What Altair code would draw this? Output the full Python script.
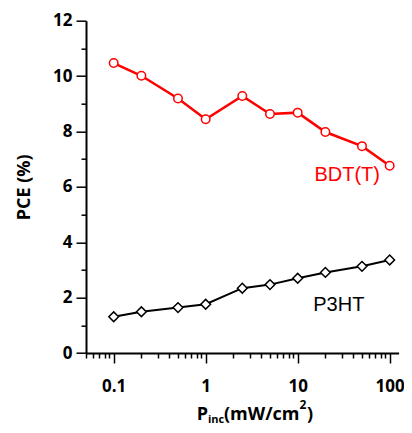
import altair as alt
import pandas as pd

# ---- data ----
p_inc = [0.1, 0.2, 0.5, 1, 2.5, 5, 10, 20, 50, 100]
pce_bdt = [10.47, 10.01, 9.19, 8.44, 9.28, 8.63, 8.68, 7.98, 7.47, 6.76]
pce_p3ht = [1.31, 1.49, 1.64, 1.76, 2.34, 2.47, 2.70, 2.91, 3.13, 3.36]

x_major = [0.1, 1, 10, 100]
x_minor = [0.05, 0.06, 0.07, 0.08, 0.09, 0.2, 0.3, 0.4, 0.5, 0.6, 0.7, 0.8, 0.9,
           2, 3, 4, 5, 6, 7, 8, 9, 20, 30, 40, 50, 60, 70, 80, 90]
y_major = [0, 2, 4, 6, 8, 10, 12]
y_minor = [1, 3, 5, 7, 9, 11]

series_labels = ["BDT(T)", "P3HT"]
label_x = [34.5, 28.0]
label_y = [6.21, 1.52]
label_colors = ["#ff0000", "#000000"]

y_title = "PCE (%)"
x_title_parts = ["P", "inc", "(mW/cm", "2", ")"]

# ---- tables ----
df = pd.DataFrame({"p": p_inc, "bdt": pce_bdt, "p3ht": pce_p3ht})
lab = pd.DataFrame({"t": series_labels, "x": label_x, "y": label_y, "c": label_colors})

W, H = 312.6, 332.3
xs = alt.Scale(type="log", domain=[0.05, 125], nice=False)
ys = alt.Scale(domain=[0, 12], nice=False, zero=False)

FONT = "Open Sans"

x_axis_major = alt.Axis(values=x_major, labelExpr="datum.value >= 1 ? format(datum.value, 'd') : format(datum.value, '.1f')",
                        tickSize=10, tickWidth=1.5, tickColor="black", domainColor="black", domainWidth=2,
                        labelFont=FONT, labelFontSize=17, labelFontWeight="bold", labelColor="black",
                        labelPadding=15, grid=False, title=None, orient="bottom", labelFlush=False)
y_axis_major = alt.Axis(values=y_major, format="d", tickSize=10, tickWidth=1.5, tickColor="black",
                        domainColor="black", domainWidth=2,
                        labelFont=FONT, labelFontSize=17, labelFontWeight="bold", labelColor="black",
                        labelPadding=4, grid=False, title=y_title, titleFont=FONT, titleFontSize=18,
                        titleFontWeight="bold", titleColor="black", titlePadding=19, orient="left",
                        labelFlush=False)
x_axis_minor = alt.Axis(values=x_minor, tickSize=5, tickWidth=1.5, tickColor="black", labels=False,
                        domain=False, grid=False, title=None, orient="bottom")
y_axis_minor = alt.Axis(values=y_minor, tickSize=5, tickWidth=1.5, tickColor="black", labels=False,
                        domain=False, grid=False, title=None, orient="left")

base = alt.Chart(df)

bdt_line = base.mark_line(color="#ff0000", strokeWidth=2.5).encode(
    x=alt.X("p:Q", scale=xs, axis=x_axis_major),
    y=alt.Y("bdt:Q", scale=ys, axis=y_axis_major),
)
p3ht_line = base.mark_line(color="black", strokeWidth=2).encode(
    x=alt.X("p:Q", scale=xs, axis=x_axis_minor),
    y=alt.Y("p3ht:Q", scale=ys, axis=y_axis_minor),
)
bdt_pts = base.mark_point(shape="circle", filled=True, fill="white", stroke="#ff0000",
                          strokeWidth=1.5, size=72, opacity=1).encode(
    x=alt.X("p:Q", scale=xs, axis=None),
    y=alt.Y("bdt:Q", scale=ys, axis=None),
)
p3ht_pts = base.mark_point(shape="diamond", filled=True, fill="white", stroke="black",
                           strokeWidth=1.5, size=95, opacity=1).encode(
    x=alt.X("p:Q", scale=xs, axis=None),
    y=alt.Y("p3ht:Q", scale=ys, axis=None),
)
labels = alt.Chart(lab).mark_text(font="Liberation Sans", fontSize=20, align="center",
                                  baseline="alphabetic").encode(
    x=alt.X("x:Q", scale=xs, axis=None),
    y=alt.Y("y:Q", scale=ys, axis=None),
    text="t:N",
    color=alt.Color("c:N", scale=None),
)

# x-axis title built from pieces (subscript / superscript)
tdf = pd.DataFrame({"t": x_title_parts})
def piece(i, px, py, size):
    return alt.Chart(tdf).transform_filter(alt.datum.t == x_title_parts[i]).mark_text(
        font=FONT, fontSize=size, fontWeight="bold", align="left", baseline="alphabetic", color="black"
    ).encode(x=alt.value(px), y=alt.value(py), text="t:N")

TB = 399.0
title_layers = [
    piece(0, 110.7, TB, 18),
    piece(1, 122.0, TB + 3.5, 11),
    piece(2, 138.0, TB, 18),
    piece(3, 213.5, TB - 11, 12),
    piece(4, 221.0, TB, 18),
]

chart = alt.layer(bdt_line, p3ht_line, bdt_pts, p3ht_pts, labels, *title_layers).resolve_axis(
    x="independent", y="independent"
).properties(
    width=W, height=H,
    autosize=alt.AutoSizeParams(type="none"),
    padding={"left": 78, "top": 12.7, "right": 5.4, "bottom": 72},
).configure_view(stroke=None)

chart.save("out.html", embed_options={"renderer": "svg", "actions": False})
